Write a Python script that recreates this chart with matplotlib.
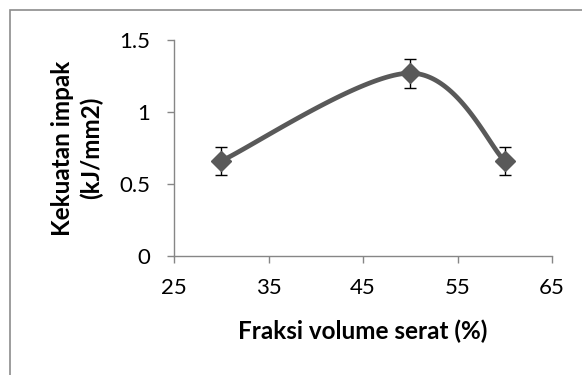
import numpy as np
import matplotlib.pyplot as plt
from matplotlib.patches import Rectangle

plt.rcParams['font.family'] = ['Lato', 'DejaVu Sans']

fraksi = [30, 50, 60]
kekuatan = [0.66, 1.27, 0.66]
galat = [0.1, 0.1, 0.1]

xticks = [25, 35, 45, 55, 65]
yticks = [0, 0.5, 1, 1.5]
ytick_labels = ['0', '0.5', '1', '1.5']

W, H = 582, 375
fig = plt.figure(figsize=(W / 100, H / 100), dpi=100)
ax = fig.add_axes([174 / W, 1 - 256 / H, (552 - 174) / W, (256 - 40) / H])

ax.set_xlim(25, 65)
ax.set_ylim(0, 1.5)

# garis halus ala Excel (Bezier, dihitung di koordinat layar)
pts = ax.transData.transform(np.column_stack([fraksi, kekuatan]))
n = len(pts)
curve = []
for i in range(n - 1):
    p0 = pts[max(i - 1, 0)]
    p1 = pts[i]
    p2 = pts[i + 1]
    p3 = pts[min(i + 2, n - 1)]
    c1 = p1 + (p2 - p0) / 6
    c2 = p2 - (p3 - p1) / 6
    t = np.linspace(0, 1, 60)[:, None]
    seg = (1 - t) ** 3 * p1 + 3 * (1 - t) ** 2 * t * c1 + 3 * (1 - t) * t ** 2 * c2 + t ** 3 * p2
    curve.append(seg)
curve = ax.transData.inverted().transform(np.vstack(curve))

abu = '#595959'
ax.plot(curve[:, 0], curve[:, 1], color=abu, lw=3.4, solid_capstyle='round', zorder=2)
ax.errorbar(fraksi, kekuatan, yerr=galat, fmt='none', ecolor='black',
            elinewidth=1, capsize=4.5, capthick=1, zorder=3)
ax.plot(fraksi, kekuatan, linestyle='none', marker='D', markersize=10.5,
        color=abu, zorder=4)

for s in ['top', 'right']:
    ax.spines[s].set_visible(False)
for s in ['left', 'bottom']:
    ax.spines[s].set_color('#868686')
    ax.spines[s].set_linewidth(1)

ax.set_xticks(xticks)
ax.set_yticks(yticks)
ax.set_yticklabels(ytick_labels)
ax.tick_params(direction='out', length=5, width=1, color='#868686',
               labelsize=16, labelcolor='black')
ax.tick_params(axis='x', pad=11)
ax.tick_params(axis='y', pad=12)

ax.set_xlabel('Fraksi volume serat (%)', fontsize=17.5, fontweight='bold', labelpad=15)
ax.set_ylabel('Kekuatan impak\n(kJ/mm2)', fontsize=17.5, fontweight='bold', labelpad=12,
              linespacing=1.25)

fig.patches.append(Rectangle((10 / W, -0.1), 1.2, 1 - 10 / H + 0.1,
                             transform=fig.transFigure, fill=False,
                             edgecolor='#8c8c8c', lw=1.2))

fig.savefig('out.png', dpi=100)
